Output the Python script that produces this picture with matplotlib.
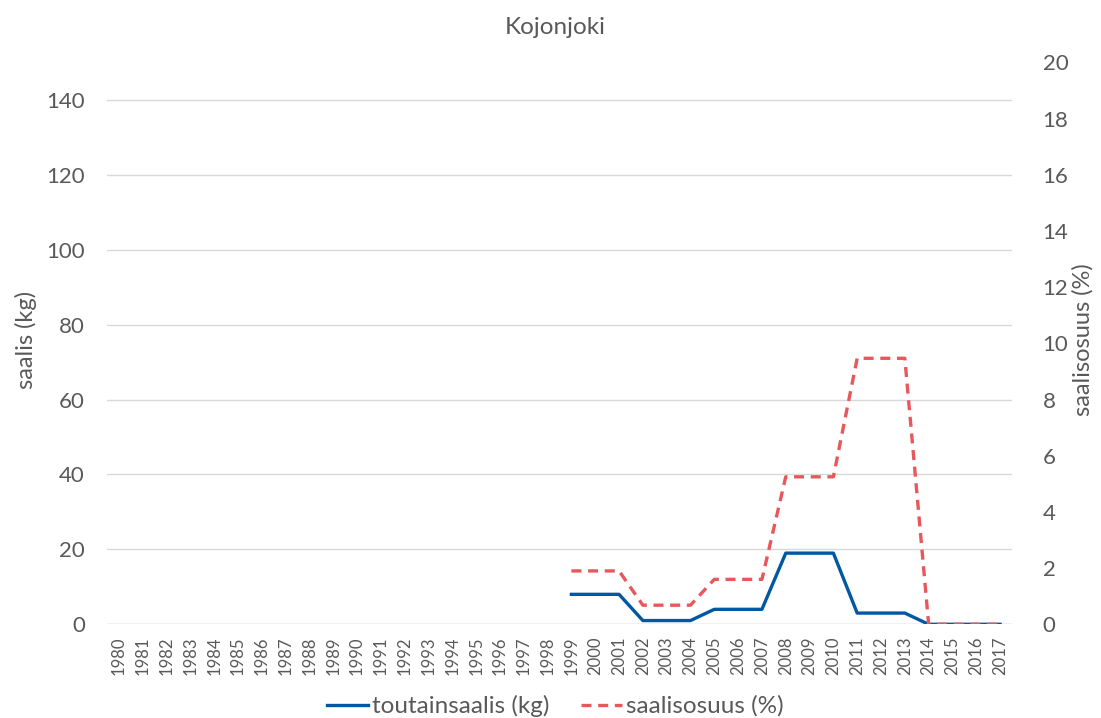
import matplotlib
matplotlib.use("Agg")
import matplotlib.pyplot as plt
import numpy as np

years = [str(y) for y in range(1980, 2018)]
catch_years = [str(y) for y in range(1999, 2018)]
toutainsaalis = [8, 8, 8, 1, 1, 1, 4, 4, 4, 19, 19, 19, 3, 3, 3, 0, 0, 0, 0]
saalisosuus = [1.9, 1.9, 1.9, 0.68, 0.68, 0.68, 1.6, 1.6, 1.6, 5.25, 5.25, 5.25,
               9.47, 9.47, 9.47, 0, 0, 0, 0]

plt.rcParams['font.family'] = ['Lato', 'DejaVu Sans']
txt = '#595959'
W, H = 1101, 718

fig = plt.figure(figsize=(11.01, 7.18), dpi=100)
ax = fig.add_axes([107/W, 1-624.3/H, (1012-107)/W, (624.3-62.5)/H])
ax2 = ax.twinx()

xidx = [years.index(y) for y in catch_years]
l1, = ax.plot(xidx, toutainsaalis, color='#0058A2', lw=2.4, solid_joinstyle='round',
              label='toutainsaalis (kg)', zorder=3)
l2, = ax2.plot(xidx, saalisosuus, color='#E8575B', lw=2.4, linestyle=(0, (3, 2)),
               label='saalisosuus (%)', zorder=4)

ax.set_xlim(-0.5, len(years) - 0.5)
ax.set_ylim(0, 150)
ax.set_yticks(np.arange(0, 141, 20))
ax2.set_ylim(0, 20)
ax2.set_yticks(np.arange(0, 21, 2))
ax.set_xticks(range(len(years)))
ax.set_xticklabels(years, rotation=90, color=txt)
ax.yaxis.grid(True, color='#D9D9D9', lw=1)
ax.set_axisbelow(True)
for a in (ax, ax2):
    for s in a.spines.values():
        s.set_visible(False)
    a.tick_params(length=0, colors=txt, labelsize=16)
ax.tick_params(axis='x', labelsize=12, pad=9)
ax.tick_params(axis='y', pad=16)
ax2.tick_params(axis='y', pad=22)
ax.axhline(0, color='#D9D9D9', lw=1, zorder=1)

fig.text(26/W, 1-340/H, 'saalis (kg)', rotation=90, ha='center', va='center',
         fontsize=17, color=txt)
fig.text(1083/W, 1-340/H, 'saalisosuus (%)', rotation=90, ha='center', va='center',
         fontsize=17, color=txt)
fig.text(555/W, 1-27/H, 'Kojonjoki', ha='center', va='center', fontsize=17.5, color=txt)

fig.legend(handles=[l1, l2], loc='center', bbox_to_anchor=(555/W, 1-706/H),
           ncol=2, frameon=False, fontsize=17.5, labelcolor=txt, handlelength=1.7,
           handletextpad=0.15, columnspacing=1.3)

fig.savefig('out.png', dpi=100)
